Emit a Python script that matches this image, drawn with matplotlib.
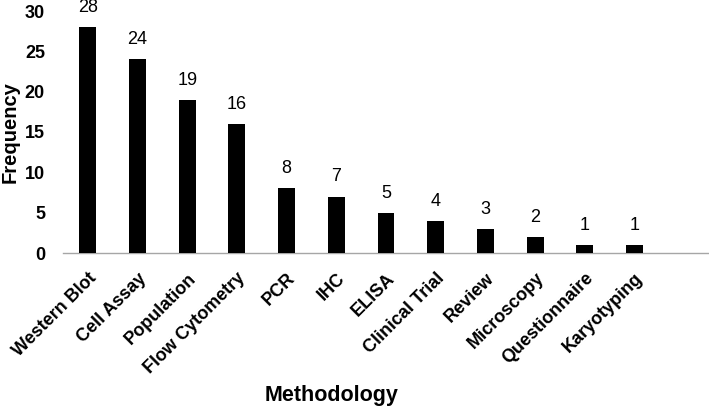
import matplotlib
matplotlib.use("Agg")
import matplotlib.pyplot as plt

plt.rcParams['font.family'] = ['Liberation Sans', 'DejaVu Sans']

methods = ["Western Blot", "Cell Assay", "Population", "Flow Cytometry", "PCR", "IHC",
           "ELISA", "Clinical Trial", "Review", "Microscopy", "Questionnaire", "Karyotyping"]
counts = [28, 24, 19, 16, 8, 7, 5, 4, 3, 2, 1, 1]
y_ticks = [0, 5, 10, 15, 20, 25, 30]

fig = plt.figure(figsize=(7.09, 4.09), dpi=100)
ax = fig.add_axes([63 / 709, 1 - 253 / 409, 1 - 63 / 709, (253 - 11) / 409])

x = list(range(len(methods)))
ax.bar(x, counts, width=0.34, color="black", zorder=3)

# value labels above the bars
for xi, c in zip(x, counts):
    ax.annotate(str(c), (xi, c), xytext=(0, 8), textcoords="offset points",
                ha="center", va="bottom", fontsize=13, color="black",
                annotation_clip=False)

ax.set_xlim(-0.5, 12.5)
ax.set_ylim(0, 30)
ax.set_yticks(y_ticks)
ax.set_yticklabels([str(t) for t in y_ticks], fontsize=13, fontweight="bold")
ax.set_xticks(x)
ax.set_xticklabels(methods, rotation=45, ha="right", va="top", rotation_mode="anchor",
                   fontsize=13, fontweight="bold")
ax.tick_params(axis="both", length=0)
ax.tick_params(axis="y", pad=13)
ax.tick_params(axis="x", pad=12)

for side in ["top", "right", "left"]:
    ax.spines[side].set_visible(False)
ax.spines["bottom"].set_color("#a6a6a6")
ax.spines["bottom"].set_linewidth(1.0)

fig.text(0.5 / 709, 1 - 132 / 409, "Frequency", rotation=90, ha="left", va="center",
         fontsize=14.5, fontweight="bold")
fig.text(332 / 709, 1 - 395 / 409, "Methodology", ha="center", va="center",
         fontsize=15.5, fontweight="bold")

fig.savefig("out.png", dpi=100)
